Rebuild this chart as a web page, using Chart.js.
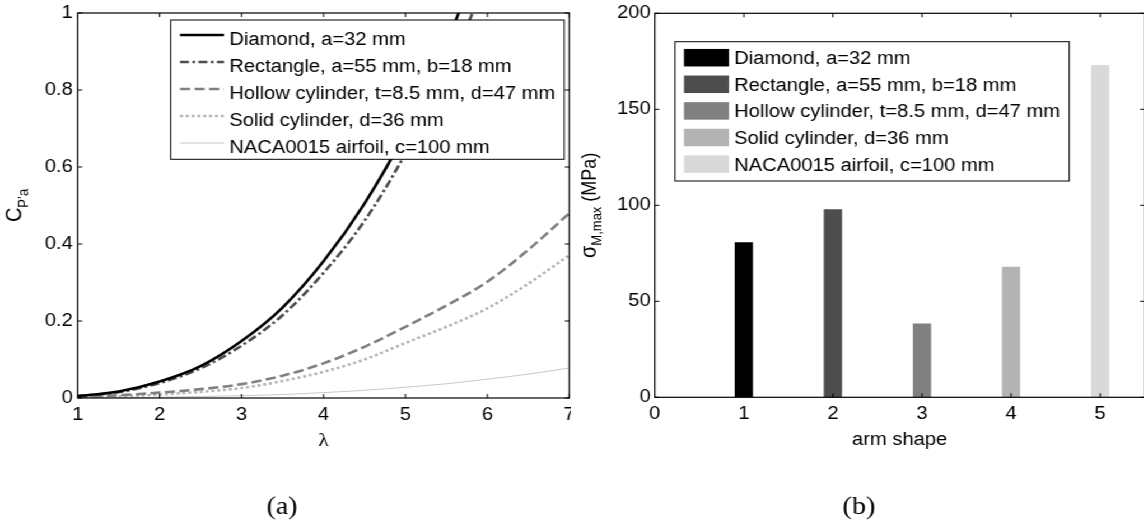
<!DOCTYPE html>
<html>
<head>
<meta charset="utf-8">
<script src="https://cdn.jsdelivr.net/npm/chart.js@4.4.0/dist/chart.umd.min.js"></script>
<style>
  html, body { margin: 0; padding: 0; background: #fff; overflow: hidden; }
  /* the original figure is a bit wider than tall, so the whole page is stretched sideways */
  #stage { position: relative; width: 1026px; height: 521px; transform: scaleX(1.12); transform-origin: 0 0; }
  #stage canvas { position: absolute; top: 0; }
</style>
</head>
<body>
<div id="stage">
  <canvas id="cpChart" width="510" height="521" style="left:0;width:510px;height:521px"></canvas>
  <canvas id="stressChart" width="516" height="521" style="left:510px;width:516px;height:521px"></canvas>
</div>
<script>
// ---- data, panel (a)
const lambda      = [1, 1.5, 2, 2.5, 3, 3.5, 4, 4.5, 5, 5.5, 6, 6.5, 7];
const cpDiamond   = [0.005, 0.017, 0.043, 0.083, 0.148, 0.235, 0.355, 0.505, 0.69, 0.92, 1.2, null, null];
const cpRectangle = [0.005, 0.015, 0.039, 0.077, 0.136, 0.215, 0.325, 0.46, 0.635, 0.845, 1.09, null, null];
const cpHollow    = [0.002, 0.007, 0.014, 0.023, 0.036, 0.058, 0.09, 0.133, 0.185, 0.24, 0.302, 0.385, 0.48];
const cpSolid     = [0.001, 0.004, 0.009, 0.016, 0.026, 0.044, 0.068, 0.1, 0.143, 0.185, 0.233, 0.297, 0.371];
const cpNaca      = [0, 0.001, 0.002, 0.004, 0.006, 0.009, 0.014, 0.02, 0.028, 0.037, 0.049, 0.062, 0.078];
const shapeLabels = ['Diamond, a=32 mm', 'Rectangle, a=55 mm, b=18 mm', 'Hollow cylinder, t=8.5 mm, d=47 mm',
                     'Solid cylinder, d=36 mm', 'NACA0015 airfoil, c=100 mm'];
const ticksLambda = [1, 2, 3, 4, 5, 6, 7];
const ticksCp     = [0, 0.2, 0.4, 0.6, 0.8, 1];

// ---- data, panel (b)
const armShape    = [1, 2, 3, 4, 5];
const sigmaMax    = [80.7, 97.9, 38.5, 68, 173.1];
const ticksShape  = [0, 1, 2, 3, 4, 5];
const ticksSigma  = [0, 50, 100, 150, 200];

const SANS  = '"Liberation Sans", Arial, Helvetica, sans-serif';
const SERIF = '"Liberation Serif", "Times New Roman", serif';
const lineStyles = [
  { color: '#000000', width: 2.6, dash: [] },
  { color: '#4d4d4d', width: 2.6, dash: [8, 3, 2.5, 3] },
  { color: '#808080', width: 2.6, dash: [9, 4] },
  { color: '#b3b3b3', width: 2.6, dash: [2.6, 2.6] },
  { color: '#c8c8c8', width: 1,   dash: [] }
];
const barColors = ['#000000', '#4d4d4d', '#808080', '#b3b3b3', '#d9d9d9'];

Chart.defaults.font.family = SANS;
Chart.defaults.font.size = 18;
Chart.defaults.color = '#000';

function useTicks(list) {
  return function (scale) { scale.ticks = list.map(v => ({ value: v })); };
}
function fixWidth(w) {
  return function (scale) {
    scale.width = w;
    scale.paddingLeft = scale.paddingRight = scale.paddingTop = scale.paddingBottom = 0;
  };
}
function fixHeight(h) {
  return function (scale) {
    scale.height = h;
    scale.paddingLeft = scale.paddingRight = scale.paddingTop = scale.paddingBottom = 0;
  };
}

// text with a lowered, smaller part (matlab style subscripts)
function drawParts(ctx, parts, x, y, rotated) {
  let total = 0;
  parts.forEach(p => { ctx.font = p.font; p.w = ctx.measureText(p.t).width; total += p.w; });
  ctx.save();
  ctx.translate(x, y);
  if (rotated) ctx.rotate(-Math.PI / 2);
  ctx.textAlign = 'left';
  ctx.textBaseline = 'alphabetic';
  ctx.fillStyle = '#000';
  let cx = -total / 2;
  parts.forEach(p => { ctx.font = p.font; ctx.fillText(p.t, cx, p.dy || 0); cx += p.w; });
  ctx.restore();
}

// box, inward ticks, legend, titles and caption like the matlab figure
function makeFrame(cfg) {
  return {
    id: 'frame',
    afterDatasetsDraw(chart) {
      const ctx = chart.ctx, lg = cfg.legend;
      ctx.save();
      ctx.fillStyle = '#fff';
      ctx.fillRect(lg.x, lg.y, lg.w, lg.h);
      ctx.strokeStyle = '#000';
      ctx.lineWidth = 1;
      ctx.strokeRect(lg.x, lg.y, lg.w, lg.h);
      ctx.font = '18px ' + SANS;
      ctx.textBaseline = 'alphabetic';
      lg.labels.forEach((label, i) => {
        const cy = lg.row0 + i * lg.step;
        if (lg.lines) {
          const st = lg.lines[i];
          ctx.strokeStyle = st.color;
          ctx.lineWidth = st.width;
          ctx.setLineDash(st.dash);
          ctx.beginPath();
          ctx.moveTo(lg.sx0, cy);
          ctx.lineTo(lg.sx1, cy);
          ctx.stroke();
          ctx.setLineDash([]);
        } else {
          ctx.fillStyle = lg.colors[i];
          ctx.fillRect(lg.sx0, cy - lg.sh / 2, lg.sx1 - lg.sx0, lg.sh);
        }
        ctx.fillStyle = '#000';
        ctx.fillText(label, lg.tx, cy + lg.dy);
      });
      ctx.restore();
    },
    afterDraw(chart) {
      const ctx = chart.ctx, a = chart.chartArea;
      const xs = chart.scales.x, ys = chart.scales.y;
      ctx.save();
      ctx.strokeStyle = '#000';
      ctx.lineWidth = 1.2;
      ctx.strokeRect(a.left, a.top, a.right - a.left, a.bottom - a.top);
      ctx.lineWidth = 1;
      ctx.beginPath();
      xs.ticks.forEach(t => {
        const px = xs.getPixelForValue(t.value);
        ctx.moveTo(px, a.bottom); ctx.lineTo(px, a.bottom - 4);
        ctx.moveTo(px, a.top);    ctx.lineTo(px, a.top + 4);
      });
      ys.ticks.forEach(t => {
        const py = ys.getPixelForValue(t.value);
        ctx.moveTo(a.left, py);  ctx.lineTo(a.left + 4, py);
        ctx.moveTo(a.right, py); ctx.lineTo(a.right - 4, py);
      });
      ctx.stroke();
      ctx.restore();

      const midX = (a.left + a.right) / 2, midY = (a.top + a.bottom) / 2;
      drawParts(ctx, cfg.xTitle, midX, cfg.xTitleY, false);
      drawParts(ctx, cfg.yTitle, cfg.yTitleX, midY, true);
      drawParts(ctx, [{ t: cfg.caption, font: '25px ' + SERIF }], cfg.captionX, 514, false);
    }
  };
}

// ---- panel (a)
const lineSets = [cpDiamond, cpRectangle, cpHollow, cpSolid, cpNaca].map((vals, i) => ({
  label: shapeLabels[i],
  data: lambda.map((x, j) => ({ x: x, y: vals[j] })).filter(p => p.y !== null),
  borderColor: lineStyles[i].color,
  borderWidth: lineStyles[i].width,
  borderDash: lineStyles[i].dash,
  pointRadius: 0,
  cubicInterpolationMode: 'monotone',
  fill: false
}));

new Chart(document.getElementById('cpChart'), {
  type: 'line',
  data: { datasets: lineSets },
  options: {
    responsive: false,
    animation: false,
    devicePixelRatio: 1,
    layout: { autoPadding: false, padding: { left: 0, top: 13, right: 1.7, bottom: 83 } },
    plugins: { legend: { display: false }, tooltip: { enabled: false } },
    scales: {
      x: {
        type: 'linear', min: 1, max: 7,
        afterBuildTicks: useTicks(ticksLambda), afterFit: fixHeight(40),
        grid: { display: false, drawTicks: false }, border: { display: false },
        ticks: { padding: 6, callback: v => String(v), maxRotation: 0 }
      },
      y: {
        type: 'linear', min: 0, max: 1,
        afterBuildTicks: useTicks(ticksCp), afterFit: fixWidth(69.4),
        grid: { display: false, drawTicks: false }, border: { display: false },
        ticks: { padding: 4.5, callback: v => String(v) }
      }
    }
  },
  plugins: [makeFrame({
    legend: { x: 152.4, y: 20, w: 351.4, h: 139.3, labels: shapeLabels, lines: lineStyles,
              row0: 35, step: 27, sx0: 160.7, sx1: 200, tx: 204.7, dy: 9.5 },
    xTitle: [{ t: 'λ', font: '19px ' + SERIF }],
    xTitleY: 446,
    yTitle: [{ t: 'C', font: '20px ' + SANS }, { t: 'P\u2019a', font: '13px ' + SANS, dy: 6 }],
    yTitleX: 19,
    caption: '(a)', captionX: 251.8
  })]
});

// ---- panel (b)
new Chart(document.getElementById('stressChart'), {
  type: 'bar',
  data: {
    datasets: [{
      label: 'σM,max',
      data: armShape.map((x, i) => ({ x: x, y: sigmaMax[i] })),
      backgroundColor: barColors,
      borderWidth: 0,
      barPercentage: 0.205,
      categoryPercentage: 1
    }]
  },
  options: {
    responsive: false,
    animation: false,
    devicePixelRatio: 1,
    layout: { autoPadding: false, padding: { left: 0, top: 13.3, right: 3.95, bottom: 83.7 } },
    plugins: { legend: { display: false }, tooltip: { enabled: false } },
    scales: {
      x: {
        type: 'linear', min: 0, max: 5.5, offset: false,
        afterBuildTicks: useTicks(ticksShape), afterFit: fixHeight(40),
        grid: { display: false, drawTicks: false }, border: { display: false },
        ticks: { padding: 6, callback: v => String(v), maxRotation: 0 }
      },
      y: {
        type: 'linear', min: 0, max: 200,
        afterBuildTicks: useTicks(ticksSigma), afterFit: fixWidth(74.6),
        grid: { display: false, drawTicks: false }, border: { display: false },
        ticks: { padding: 3.5, callback: v => String(v) }
      }
    }
  },
  plugins: [makeFrame({
    legend: { x: 92.7, y: 41.7, w: 352, h: 139.3, labels: shapeLabels, colors: barColors,
              row0: 57.7, step: 26.6, sx0: 100.7, sx1: 140.9, sh: 17.5, tx: 145.4, dy: 6.4 },
    xTitle: [{ t: 'arm shape', font: '18px ' + SANS }],
    xTitleY: 445,
    yTitle: [{ t: 'σ', font: '20px ' + SANS }, { t: 'M,max', font: '13px ' + SANS, dy: 5 },
             { t: ' (MPa)', font: '18px ' + SANS }],
    yTitleX: 22.1,
    caption: '(b)', captionX: 256.9
  })]
});
</script>
</body>
</html>
